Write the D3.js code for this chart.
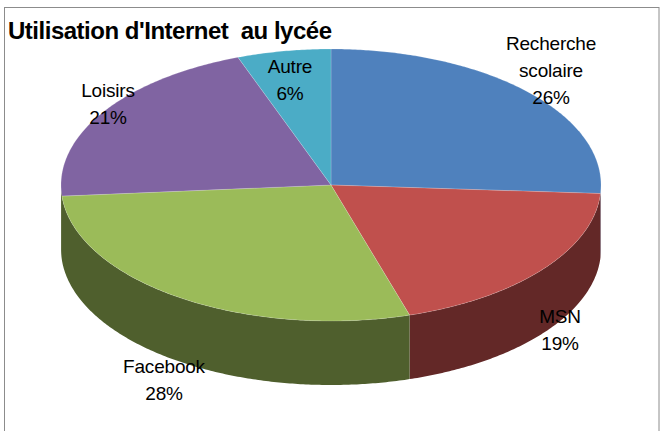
<!DOCTYPE html>
<html>
<head>
<meta charset="utf-8">
<script src="https://cdn.jsdelivr.net/npm/d3@7"></script>
<style>
  html, body { margin: 0; padding: 0; background: #fff; }
  svg { display: block; }
  text { font-family: "Liberation Sans", Arial, sans-serif; fill: #000; white-space: pre; }
</style>
</head>
<body>
<svg id="chart" width="660" height="431"></svg>
<script>
const titleText = "Utilisation d'Internet  au lycée";
const categories = [["Recherche", "scolaire"], ["MSN"], ["Facebook"], ["Loisirs"], ["Autre"]];
// the labels are these rounded
const values = [26, 19.3, 28.4, 20.7, 5.6];
const topColors = ["#4f81bd", "#c0504d", "#9bbb59", "#8064a2", "#4bacc6"];
// purple only touches the wall by a fraction of a pixel, the original shows green there
const sideColors = ["#7e93b5", "#632827", "#4f5f2d", "#4f5f2d", "#4bacc6"];

// label centres, first baseline
const labelSpots = [[551, 50], [560, 323], [164, 373], [108, 97], [290, 73]];

const width = 660, height = 431;
const cx = 331, cy = 185, rx = 270, ry = 136, depth = 64;
const lineGap = 27;

const svg = d3.select("#chart");

// frame, open at the bottom like the cropped original
svg.append("rect")
  .attr("x", 4.5).attr("y", 7.5)
  .attr("width", 654.5).attr("height", 440)
  .attr("fill", "#fff")
  .attr("stroke", "#8c8c8c")
  .attr("stroke-width", 1);

const slices = d3.pie().sort(null).value(d => d)(values);

// tilted circle, angle 0 at the top going clockwise
const px = a => cx + rx * Math.sin(a);
const py = (a, dz = 0) => cy - ry * Math.cos(a) + dz;

function arcPoints(a0, a1, dz) {
  const n = Math.max(2, Math.ceil(Math.abs(a1 - a0) / 0.01));
  return d3.range(n + 1).map(i => {
    const a = a0 + (a1 - a0) * i / n;
    return [px(a), py(a, dz)];
  });
}

const line = d3.line();

// the wall, only the front half of the ellipse can be seen
const front0 = Math.PI / 2, front1 = Math.PI * 3 / 2;
svg.append("g").selectAll("path")
  .data(slices.filter(d => d.endAngle > front0 && d.startAngle < front1))
  .join("path")
  .attr("d", d => {
    const a0 = Math.max(d.startAngle, front0), a1 = Math.min(d.endAngle, front1);
    return line(arcPoints(a0, a1, 0).concat(arcPoints(a1, a0, depth))) + "Z";
  })
  .attr("fill", d => sideColors[d.index]);

// top face
svg.append("g").selectAll("path")
  .data(slices)
  .join("path")
  .attr("d", d => line([[cx, cy]].concat(arcPoints(d.startAngle, d.endAngle, 0))) + "Z")
  .attr("fill", d => topColors[d.index])
  .attr("stroke", "#fff")
  .attr("stroke-opacity", 0.25)
  .attr("stroke-width", 0.7);

svg.append("text")
  .attr("x", 8).attr("y", 39)
  .attr("font-size", 24).attr("font-weight", "bold")
  .attr("textLength", 324).attr("lengthAdjust", "spacing")
  .text(titleText);

const labels = svg.append("g").selectAll("text")
  .data(slices)
  .join("text")
  .attr("text-anchor", "middle")
  .attr("font-size", 19)
  .attr("letter-spacing", -0.2);

labels.each(function (d) {
  const [x, y] = labelSpots[d.index];
  const rows = categories[d.index].concat(d3.format(".0f")(d.value) + "%");
  d3.select(this).selectAll("tspan")
    .data(rows)
    .join("tspan")
    .attr("x", x)
    .attr("y", (r, i) => y + i * lineGap)
    .text(r => r);
});
</script>
</body>
</html>
